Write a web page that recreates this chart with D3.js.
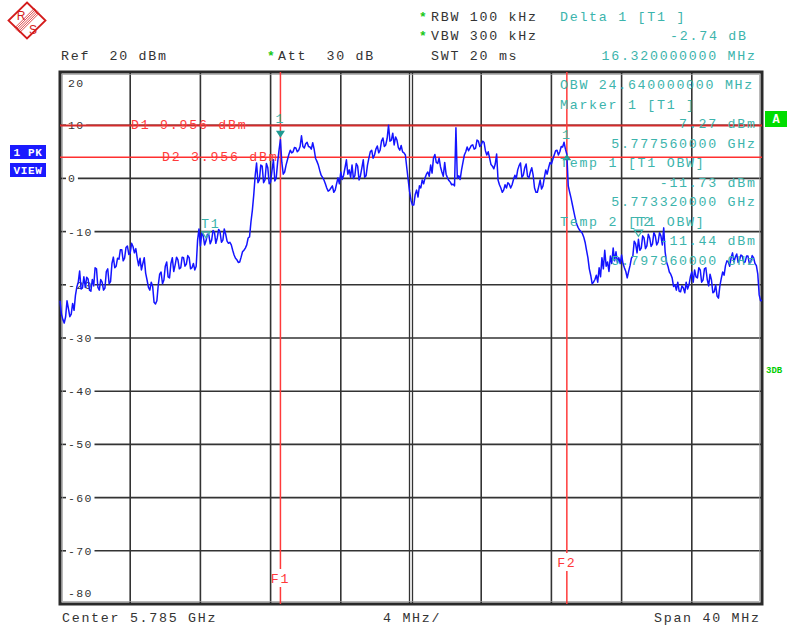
<!DOCTYPE html>
<html><head><meta charset="utf-8">
<script src="https://cdn.jsdelivr.net/npm/d3@7"></script>
<style>
html,body{margin:0;padding:0;background:#fff;}
svg text{white-space:pre;}
</style></head>
<body>
<svg id="c" width="788" height="630"></svg>
<script>
// ---------- data ----------
const centerGHz = 5.785;
const spanMHz = 40;
const startMHz = 5765;
const stepMHz = 0.08;
const refLevelLabels = ["20","10","0","-10","-20","-30","-40","-50","-60","-70","-80"];
const gridLevels = [10,0,-10,-20,-30,-40,-50,-60,-70];
const traceDbm = [
-23.0,-25.5,-26.5,-27.2,-26.0,-23.0,-24.5,-26.0,-25.5,-23.5,
-24.8,-22.0,-20.4,-19.5,-17.4,-20.8,-20.6,-18.5,-20.5,-18.6,
-18.9,-21.0,-21.2,-19.0,-20.2,-16.8,-17.0,-20.5,-21.0,-19.0,
-19.5,-21.0,-20.6,-17.5,-17.0,-19.8,-19.4,-16.0,-14.8,-16.8,
-16.5,-15.0,-15.2,-13.4,-13.4,-15.5,-15.0,-13.0,-12.7,-14.3,
-14.0,-12.2,-12.8,-14.0,-13.2,-15.0,-16.4,-15.0,-17.2,-16.0,
-14.9,-17.8,-19.1,-20.5,-21.0,-19.5,-20.3,-23.3,-23.6,-23.0,
-20.0,-18.0,-17.6,-19.8,-19.1,-16.5,-15.7,-18.5,-18.7,-16.0,
-14.9,-17.5,-16.3,-14.8,-15.3,-17.0,-16.8,-14.8,-14.9,-16.5,
-16.1,-14.5,-14.9,-17.0,-16.8,-16.0,-17.2,-16.5,-11.6,-9.5,
-12.7,-10.2,-10.8,-12.5,-11.73,-10.5,-10.6,-12.3,-11.6,-9.8,
-10.1,-12.2,-11.2,-9.6,-10.1,-12.0,-11.6,-9.5,-10.5,-11.8,
-12.2,-12.0,-12.5,-13.5,-14.4,-15.0,-15.3,-15.8,-15.7,-14.8,
-13.8,-13.5,-13.1,-12.5,-11.2,-11.0,-8.2,-6.0,-3.1,0.5,
2.9,-0.8,-0.3,2.5,2.3,-0.8,-0.3,2.8,2.0,-1.0,
-0.7,1.5,3.5,-0.5,0.1,3.0,5.3,7.27,3.0,0.8,
1.2,2.5,3.5,4.5,5.3,4.8,5.0,5.8,5.7,5.0,
5.3,6.0,8.0,6.0,5.7,6.5,6.8,6.0,5.9,5.5,
6.7,5.5,3.8,3.2,2.5,1.5,0.6,0.2,-0.3,-1.0,
-1.8,-2.4,-2.2,-1.8,-1.4,-2.6,-2.2,-1.0,0.1,-1.0,
1.2,-0.2,0.6,2.0,3.5,0.8,1.6,0.2,2.5,0.0,
0.5,2.8,2.3,-0.3,0.5,2.0,3.5,0.2,0.5,2.5,
3.8,5.0,5.3,3.8,4.4,5.5,6.1,4.8,5.3,7.0,
7.6,6.0,6.3,7.5,10.0,7.0,7.2,8.5,6.3,7.8,
7.2,5.8,5.3,6.2,5.0,4.8,4.4,2.0,-0.3,-2.5,
-4.1,-5.0,-5.0,-3.0,-2.2,-3.5,-1.4,-1.8,-0.3,-1.0,
0.1,0.8,1.2,0.4,2.5,1.0,3.8,4.5,3.0,2.8,
3.8,2.2,1.2,0.4,3.0,0.8,0.1,-0.4,-0.7,-1.2,
-1.1,-1.4,9.5,0.0,0.5,-0.2,1.6,3.0,4.4,5.0,
5.9,5.2,5.7,6.2,6.3,5.5,5.7,7.2,7.0,6.0,
6.3,7.0,6.8,5.2,4.4,5.0,3.8,2.6,2.3,1.8,
2.7,4.6,-0.3,-1.2,-1.8,-2.6,-2.2,-1.2,-1.8,-0.8,
-1.1,-1.8,-1.2,-0.2,0.6,0.0,1.6,2.4,2.9,0.2,
0.6,2.0,2.7,0.4,0.1,1.2,2.0,0.6,-1.8,-2.6,
-2.6,-1.5,-0.3,-2.0,-1.4,0.2,1.6,0.8,2.0,3.0,
2.7,3.6,4.4,5.2,5.3,4.4,5.0,6.0,5.9,6.8,
5.5,4.53,-1.4,-2.6,-3.7,-5.0,-6.3,-7.5,-8.6,-9.2,
-9.7,-10.0,-10.3,-11.0,-12.0,-13.5,-14.9,-17.0,-18.2,-19.8,
-19.5,-19.0,-18.2,-19.5,-16.8,-18.5,-14.9,-17.0,-13.5,-16.5,
-15.7,-17.5,-14.6,-16.0,-13.1,-15.5,-13.8,-15.8,-14.9,-16.0,
-14.4,-16.0,-16.8,-17.5,-18.7,-17.5,-16.4,-15.0,-14.6,-11.8,
-12.3,-14.0,-11.44,-13.5,-13.1,-10.8,-11.2,-13.2,-12.7,-10.5,
-11.2,-12.8,-12.3,-10.2,-10.8,-12.5,-12.0,-10.2,-10.8,-12.5,
-9.3,-13.8,-15.7,-16.5,-17.6,-18.0,-18.7,-20.3,-20.0,-21.0,
-19.5,-21.2,-21.3,-20.2,-20.6,-21.5,-19.5,-20.8,-20.0,-18.5,
-17.6,-19.5,-17.2,-18.5,-18.7,-16.8,-17.2,-19.5,-19.1,-17.0,
-16.8,-19.0,-20.2,-18.0,-19.1,-21.5,-21.3,-20.0,-22.1,-22.5,
-20.2,-18.8,-17.6,-18.2,-16.4,-15.5,-15.7,-16.5,-14.9,-14.0,
-15.7,-14.8,-14.2,-15.8,-15.3,-14.4,-14.6,-15.8,-15.7,-14.6,
-14.6,-16.0,-15.7,-14.5,-14.9,-16.0,-16.4,-18.0,-21.9,-23.0,
-22.9
];
const displayLineNames = ["D1 9.956 dBm","D2 3.956 dBm"];
const displayLineLevels = [9.956, 3.956];
const freqLineNames = ["F1","F2"];
const freqLinesMHz = [5777.56, 5793.88];
const markerLabels = ["1","1","T1","T2"];
const markerFreqMHz = [5777.56, 5793.88, 5773.32, 5797.96];
const markerDbm = [7.27, 4.53, -11.73, -11.44];
const markerKinds = ["ref","delta","temp","temp"];
const infoLines = ["OBW 24.640000000 MHz","Marker 1 [T1 ]","7.27 dBm","5.777560000 GHz",
  "Temp 1 [T1 OBW]","-11.73 dBm","5.773320000 GHz","Temp 2 [T1 OBW]","-11.44 dBm","5.797960000 GHz"];
const infoAlignRight = [false,false,true,true,false,true,true,false,true,true];

// ---------- layout ----------
const svg = d3.select("#c");
const L = 60, R = 762, T = 72, B = 604;
const x = d3.scaleLinear().domain([startMHz, startMHz + spanMHz]).range([L, R]);
const y = d3.scaleLinear().domain([-80, 20]).range([B, T]);
const FONT = "'Liberation Mono', 'DejaVu Sans Mono', monospace";
const CW = 9.7, FS = 13.3;
const CWs = 8.3, FSs = 11.5;
const TEAL = "#3cb4ac", RED = "#ff3a3a", GREY = "#333333", BLUE = "#1414ff";

function txt(g, xx, yy, s, color, opts = {}) {
  const fs = opts.fs || FS, cw = opts.cw || CW;
  const w = s.length * cw;
  let x0 = xx;
  if (opts.anchor === "end") x0 = xx - w + (cw - 0.6 * fs);
  if (opts.anchor === "middle") x0 = xx - w / 2;
  return g.append("text").attr("x", x0).attr("y", yy)
    .attr("font-family", FONT).attr("font-size", fs)
    .attr("letter-spacing", cw - 0.6 * fs)
    .attr("font-weight", opts.bold ? "bold" : "normal")
    .attr("fill", color).text(s);
}

// ---------- logo ----------
const logo = svg.append("g").attr("transform", "translate(27,20.5)");
logo.append("path").attr("d", "M0,-18 L18.5,0 L0,18 L-18.5,0 Z")
  .attr("fill", "none").attr("stroke", "#d41c1c").attr("stroke-width", 1.8);
for (let k = -2; k <= 2; k++) {
  logo.append("line").attr("x1", 10 + k * 1.2).attr("y1", -10 + k * 1.2)
    .attr("x2", -10 + k * 1.2).attr("y2", 10 + k * 1.2)
    .attr("stroke", "#d41c1c").attr("stroke-width", 0.8);
}
logo.append("text").attr("x", -6).attr("y", -1).attr("font-family", "'Liberation Sans', sans-serif")
  .attr("font-size", 12).attr("fill", "#d41c1c").attr("text-anchor", "middle").text("R");
logo.append("text").attr("x", 6).attr("y", 13).attr("font-family", "'Liberation Sans', sans-serif")
  .attr("font-size", 12).attr("fill", "#d41c1c").attr("text-anchor", "middle").text("S");

// ---------- header ----------
const hdr = svg.append("g");
function star(xx, yy) {
  hdr.append("text").attr("x", xx).attr("y", yy).attr("font-family", FONT).attr("font-size", 13)
    .attr("font-weight", "bold").attr("fill", "#18c818").text("*");
}
txt(hdr, 61, 60, "Ref  20 dBm", GREY);
star(267, 60);
txt(hdr, 278, 60, "Att  30 dB", GREY);
star(419, 21);
txt(hdr, 431, 21, "RBW 100 kHz", GREY);
star(419, 40);
txt(hdr, 431, 40, "VBW 300 kHz", GREY);
txt(hdr, 431, 60, "SWT 20 ms", GREY);
txt(hdr, 560, 21, "Delta 1 [T1 ]", TEAL);
txt(hdr, 746, 40, "-2.74 dB", TEAL, {anchor: "end"});
txt(hdr, 755, 60, "16.320000000 MHz", TEAL, {anchor: "end"});

// ---------- grid ----------
const grid = svg.append("g");
const vTicks = d3.range(startMHz + 4, startMHz + spanMHz, 4);
vTicks.forEach(f => {
  if (f === centerGHz * 1000) {
    [-1.5, 1.5].forEach(dx => grid.append("line").attr("x1", x(f) + dx).attr("x2", x(f) + dx)
      .attr("y1", T).attr("y2", B).attr("stroke", GREY).attr("stroke-width", 1.3));
  } else {
    grid.append("line").attr("x1", x(f)).attr("x2", x(f)).attr("y1", T).attr("y2", B)
      .attr("stroke", GREY).attr("stroke-width", 1.6);
  }
});
gridLevels.forEach(v => {
  const lab = String(v);
  const lend = 68 + lab.length * CWs - (CWs - 0.6 * FSs);
  grid.append("line").attr("x1", L).attr("x2", 66).attr("y1", y(v)).attr("y2", y(v))
    .attr("stroke", GREY).attr("stroke-width", 1.6);
  grid.append("line").attr("x1", lend + 3).attr("x2", R).attr("y1", y(v)).attr("y2", y(v))
    .attr("stroke", GREY).attr("stroke-width", 1.6);
  txt(grid, 68, y(v) + 4, lab, GREY, {fs: FSs, cw: CWs});
});
txt(grid, 68, y(20) + 15, refLevelLabels[0], GREY, {fs: FSs, cw: CWs});
txt(grid, 68, y(-80) - 7, refLevelLabels[10], GREY, {fs: FSs, cw: CWs});

// frame
svg.append("rect").attr("x", L).attr("y", T).attr("width", R - L).attr("height", B - T)
  .attr("fill", "none").attr("stroke", "#2a2a2a").attr("stroke-width", 3);
svg.append("rect").attr("x", L + 2.5).attr("y", T + 2.5).attr("width", R - L - 5).attr("height", B - T - 5)
  .attr("fill", "none").attr("stroke", "#9a9a9a").attr("stroke-width", 0.7);

// ---------- display lines ----------
const red = svg.append("g");
displayLineLevels.forEach((v, i) => {
  red.append("line").attr("x1", L).attr("x2", R).attr("y1", y(v)).attr("y2", y(v))
    .attr("stroke", i === 0 ? "#d42a2a" : "#ff3030").attr("stroke-width", i === 0 ? 2 : 1.5);
});
txt(red, 131, y(displayLineLevels[0]) + 4, displayLineNames[0], RED);
txt(red, 162, y(displayLineLevels[1]) + 4, displayLineNames[1], RED);
// frequency lines
const fLabY = [583, 567];
freqLinesMHz.forEach((f, i) => {
  const xx = x(f);
  red.append("line").attr("x1", xx).attr("x2", xx).attr("y1", T).attr("y2", fLabY[i] - 14)
    .attr("stroke", "#ff3a3a").attr("stroke-width", 1.5);
  red.append("line").attr("x1", xx).attr("x2", xx).attr("y1", fLabY[i] + 4).attr("y2", B)
    .attr("stroke", "#ff3a3a").attr("stroke-width", 1.5);
  txt(red, xx, fLabY[i], freqLineNames[i], RED, {anchor: "middle"});
});

// ---------- trace ----------
const line = d3.line().x((d, i) => x(startMHz + i * stepMHz)).y(d => y(d));
svg.append("path").datum(traceDbm).attr("d", line).attr("fill", "none")
  .attr("stroke", BLUE).attr("stroke-width", 1.5).attr("stroke-linejoin", "round");

// ---------- markers ----------
const mk = svg.append("g");
markerFreqMHz.forEach((f, i) => {
  const xx = x(f), yy = y(markerDbm[i]);
  const kind = markerKinds[i];
  if (kind === "ref") {
    mk.append("path").attr("d", `M${xx - 4.5},${yy - 9} L${xx + 4.5},${yy - 9} L${xx},${yy - 2} Z`).attr("fill", "#1f9a92");
    txt(mk, xx, yy - 17, markerLabels[i], TEAL, {anchor: "middle"});
  } else if (kind === "delta") {
    mk.append("path").attr("d", `M${xx - 4.5},${yy + 6} L${xx + 4.5},${yy + 6} L${xx},${yy} Z`).attr("fill", "#1f9a92");
    txt(mk, xx, yy - 15, markerLabels[i], TEAL, {anchor: "middle"});
  } else {
    mk.append("path").attr("d", `M${xx - 4},${yy - 9} L${xx + 4},${yy - 9} L${xx},${yy - 3} Z`)
      .attr("fill", "none").attr("stroke", TEAL).attr("stroke-width", 1.3);
    txt(mk, xx - 5, yy - 13, markerLabels[i], TEAL);
  }
});

// ---------- info panel ----------
const info = svg.append("g");
infoLines.forEach((s, i) => {
  const yy = 89 + i * 19.5;
  if (infoAlignRight[i]) txt(info, 755, yy, s, TEAL, {anchor: "end"});
  else txt(info, 560, yy, s, TEAL);
});

// ---------- side labels ----------
const side = svg.append("g");
[["1 PK", 145], ["VIEW", 163]].forEach(([s, yy]) => {
  side.append("rect").attr("x", 10).attr("y", yy).attr("width", 36).attr("height", 14).attr("fill", "#1a1aff");
  side.append("text").attr("x", 28).attr("y", yy + 11).attr("text-anchor", "middle")
    .attr("font-family", FONT).attr("font-size", 11).attr("font-weight", "bold")
    .attr("letter-spacing", 0.6).attr("fill", "#fff").text(s);
});
side.append("rect").attr("x", 765).attr("y", 111).attr("width", 22).attr("height", 16).attr("fill", "#00dd00");
side.append("text").attr("x", 776).attr("y", 123).attr("text-anchor", "middle")
  .attr("font-family", FONT).attr("font-size", 12).attr("font-weight", "bold").attr("fill", "#fff").text("A");
side.append("text").attr("x", 766).attr("y", 373).attr("font-family", FONT).attr("font-size", 9)
  .attr("font-weight", "bold").attr("fill", "#00cc00").text("3DB");

// ---------- footer ----------
const ft = svg.append("g");
txt(ft, 62, 622, "Center " + centerGHz + " GHz", GREY);
txt(ft, 383, 622, (spanMHz / 10) + " MHz/", GREY);
txt(ft, 759, 622, "Span " + spanMHz + " MHz", GREY, {anchor: "end"});
</script>
</body></html>
